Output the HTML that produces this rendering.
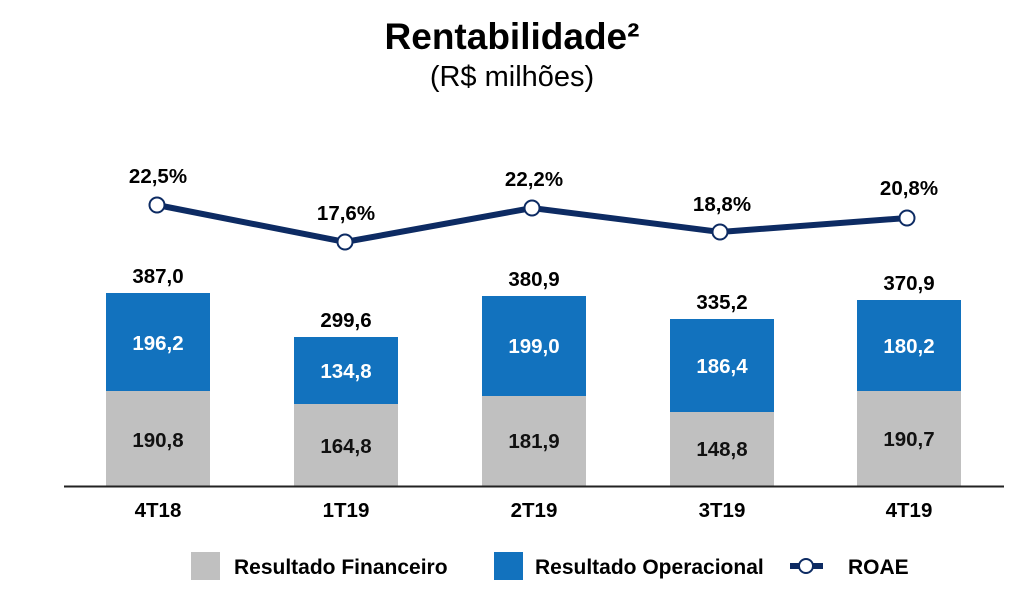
<!DOCTYPE html>
<html><head><style>
body{margin:0;background:#fff;width:1024px;height:606px;overflow:hidden}
svg text{font-family:"Liberation Sans",Arial,sans-serif;font-weight:bold}
</style></head><body>
<svg width="1024" height="606" xmlns="http://www.w3.org/2000/svg">
<text x="512" y="49" font-size="37" text-anchor="middle" fill="#000">Rentabilidade²</text>
<text x="512" y="86" font-size="29" text-anchor="middle" fill="#000" style="font-weight:normal">(R$ milhões)</text>
<g font-size="20.5" text-anchor="middle">
<rect x="106" y="391" width="104" height="95" fill="#c0c0c0"/><rect x="106" y="293" width="104" height="98" fill="#1272be"/>
<rect x="294" y="404" width="104" height="82" fill="#c0c0c0"/><rect x="294" y="337" width="104" height="67" fill="#1272be"/>
<rect x="482" y="396" width="104" height="90" fill="#c0c0c0"/><rect x="482" y="296" width="104" height="100" fill="#1272be"/>
<rect x="670" y="412" width="104" height="74" fill="#c0c0c0"/><rect x="670" y="319" width="104" height="93" fill="#1272be"/>
<rect x="857" y="391" width="104" height="95" fill="#c0c0c0"/><rect x="857" y="300" width="104" height="91" fill="#1272be"/>
<line x1="64" y1="486.5" x2="1004" y2="486.5" stroke="#222" stroke-width="2"/>
<text x="158" y="447" fill="#111">190,8</text><text x="158" y="350" fill="#fff">196,2</text><text x="158" y="283">387,0</text><text x="158" y="517">4T18</text>
<text x="346" y="453" fill="#111">164,8</text><text x="346" y="378" fill="#fff">134,8</text><text x="346" y="327">299,6</text><text x="346" y="517">1T19</text>
<text x="534" y="448" fill="#111">181,9</text><text x="534" y="353" fill="#fff">199,0</text><text x="534" y="286">380,9</text><text x="534" y="517">2T19</text>
<text x="722" y="456" fill="#111">148,8</text><text x="722" y="373" fill="#fff">186,4</text><text x="722" y="309">335,2</text><text x="722" y="517">3T19</text>
<text x="909" y="446" fill="#111">190,7</text><text x="909" y="353" fill="#fff">180,2</text><text x="909" y="290">370,9</text><text x="909" y="517">4T19</text>
<polyline points="157,205 345,242 532,208 720,232 907,218" fill="none" stroke="#0d2b63" stroke-width="6"/>
<g fill="#fff" stroke="#0d2b63" stroke-width="2"><circle cx="157" cy="205" r="7.5"/><circle cx="345" cy="242" r="7.5"/><circle cx="532" cy="208" r="7.5"/><circle cx="720" cy="232" r="7.5"/><circle cx="907" cy="218" r="7.5"/></g>
<text x="158" y="183">22,5%</text><text x="346" y="220">17,6%</text><text x="534" y="186">22,2%</text><text x="722" y="211">18,8%</text><text x="909" y="195">20,8%</text>
</g>
<g font-size="21">
<rect x="191" y="552" width="29" height="28" fill="#c0c0c0"/><text x="234" y="574">Resultado Financeiro</text>
<rect x="494" y="552" width="29" height="28" fill="#1272be"/><text x="535" y="574">Resultado Operacional</text>
<line x1="790" y1="566" x2="823" y2="566" stroke="#0d2b63" stroke-width="6"/><circle cx="806" cy="566" r="7" fill="#fff" stroke="#0d2b63" stroke-width="2"/>
<text x="848" y="574">ROAE</text>
</g>
</svg>
</body></html>
